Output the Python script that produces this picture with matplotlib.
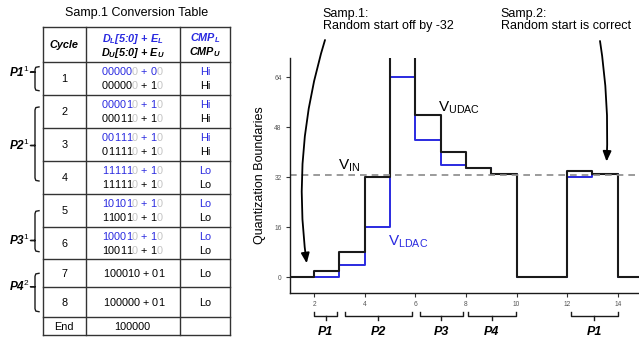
import numpy as np
import matplotlib.pyplot as plt

plt.rcParams['font.family'] = 'Liberation Sans'
plt.rcParams['mathtext.fontset'] = 'custom'
plt.rcParams['mathtext.rm'] = 'Liberation Sans'
plt.rcParams['mathtext.it'] = 'Liberation Sans:italic'
plt.rcParams['mathtext.bf'] = 'Liberation Sans:bold:italic'

BLUE = '#2a2ae0'
FADE = '#c4c4c4'
INK = '#1a1a1a'

# --- Samp.1 conversion table
cycles = ['1', '2', '3', '4', '5', '6', '7', '8', 'End']
codes_l = ['000000 + 00', '000010 + 10', '001110 + 10', '111110 + 10', '101010 + 10', '100010 + 10']
codes_u = ['000000 + 10', '000110 + 10', '011110 + 10', '111110 + 10', '110010 + 10', '100110 + 10',
           '100010 + 01', '100000 + 01', '100000']
cmp_l = ['Hi', 'Hi', 'Hi', 'Lo', 'Lo', 'Lo']
cmp_u = ['Hi', 'Hi', 'Hi', 'Lo', 'Lo', 'Lo', 'Lo', 'Lo', '']
faded_idx = (5, 10)   # bits not resolved yet, drawn in light gray
row_phases = ['P1', 'P2', 'P3', 'P4']
row_phase_sup = ['1', '1', '1', '2']

# --- DAC waveforms, one value per cycle (cycle k spans k..k+1)
cycle_edges = np.arange(1, 16)
v_udac = [0, 2, 8, 32, 96, 52, 40, 35, 33, 0, 0, 34, 33, 0]
v_ldac = [0, 0, 4, 16, 64, 44, 36, 35, 33, 0, 0, 32, 33, 0]
v_in = 32.6
phases = ['P1', 'P2', 'P3', 'P4', 'P1']
phase_start = [2.0, 3.21, 6.19, 8.1, 12.14]
phase_end = [2.92, 5.88, 7.87, 9.98, 14.0]
phase_mid = [2.47, 4.54, 7.02, 9.02, 13.07]

fig = plt.figure(figsize=(6.39, 3.38), dpi=100)

# pixel-coordinate overlay for the table and the notes
pax = fig.add_axes([0, 0, 1, 1])
pax.set_xlim(0, 639)
pax.set_ylim(338, 0)
pax.axis('off')

ADV = {'0': 0.556, '1': 0.556, ' ': 0.278, '+': 0.584}
FS = 7.8
EM = FS * 100 / 72


def code_text(x, y, code, color, faded):
    pen = x
    for i, ch in enumerate(code):
        if ch != ' ':
            pax.text(pen, y + 0.36 * EM, ch, color=FADE if i in faded else color,
                     fontsize=FS, ha='left', va='baseline')
        pen += ADV[ch] * EM


col_x = [42.7, 86, 180, 230]
row_y = [27.3, 62, 95, 128, 161, 193.5, 226.7, 259.3, 287.3, 316.7, 335]
for y in row_y:
    pax.plot([col_x[0], col_x[-1]], [y, y], color='#333333', lw=1.0)
for x in col_x:
    pax.plot([x, x], [row_y[0], row_y[-1]], color='#333333', lw=1.0)

pax.text(136.5, 13, 'Samp.1 Conversion Table', fontsize=9, ha='center', va='center')
pax.text(64.3, 45, 'Cycle', fontsize=FS, fontweight='bold', style='italic', ha='center', va='center')
pax.text(133, 38.5, r'D$_\mathbf{L}$[5:0] + E$_\mathbf{L}$', color=BLUE, fontsize=FS,
         fontweight='bold', style='italic', ha='center', va='center')
pax.text(133, 52.5, r'D$_\mathbf{U}$[5:0] + E$_\mathbf{U}$', color='black', fontsize=FS,
         fontweight='bold', style='italic', ha='center', va='center')
pax.text(205, 38.5, r'CMP$_\mathbf{L}$', color=BLUE, fontsize=FS,
         fontweight='bold', style='italic', ha='center', va='center')
pax.text(205, 52.5, r'CMP$_\mathbf{U}$', color='black', fontsize=FS,
         fontweight='bold', style='italic', ha='center', va='center')

for i, cyc in enumerate(cycles):
    yc = (row_y[i + 1] + row_y[i + 2]) / 2
    pax.text(64.3, yc + 0.36 * EM, cyc, fontsize=FS, ha='center', va='baseline')
    if i < len(codes_l):
        code_text(101.7, yc - 7, codes_l[i], BLUE, faded_idx)
        code_text(101.7, yc + 7, codes_u[i], 'black', faded_idx)
        pax.text(205, yc - 7 + 0.36 * EM, cmp_l[i], color=BLUE, fontsize=FS, ha='center', va='baseline')
        pax.text(205, yc + 7 + 0.36 * EM, cmp_u[i], color='black', fontsize=FS, ha='center', va='baseline')
    elif cyc != 'End':
        code_text(103.3, yc, codes_u[i], 'black', ())
        pax.text(205, yc + 0.36 * EM, cmp_u[i], color='black', fontsize=FS, ha='center', va='baseline')
    else:
        pax.text(132.5, yc + 0.36 * EM, codes_u[i], fontsize=FS, ha='center', va='baseline')

# brackets grouping the cycles into phases
bracket_span = [(66.7, 90.7, 72.2), (107, 181, 145.5), (210.7, 251.7, 240.5), (273.3, 311.7, 286.7)]
bx = 35
for name, sup, (y0, y1, ym) in zip(row_phases, row_phase_sup, bracket_span):
    pax.plot([bx + 4, bx + 0.8, bx, bx, bx - 4.5, bx, bx, bx + 0.8, bx + 4],
             [y0, y0 + 0.6, y0 + 3, ym, ym, ym, y1 - 3, y1 - 0.6, y1], color=INK, lw=1.0)
    pax.text(29.5, ym, name + r'$^{' + sup + '}$', fontsize=8.5, fontweight='bold', style='italic',
             ha='right', va='center')

# --- chart
ax = fig.add_axes([290 / 639, 45.3 / 338, (639 - 290) / 639, 234.4 / 338])
ax.patch.set_visible(False)
ax.step(cycle_edges, v_ldac + [v_ldac[-1]], where='post', color=BLUE, lw=1.4)
ax.step(cycle_edges, v_udac + [v_udac[-1]], where='post', color=INK, lw=1.5)
ax.axhline(v_in, color='#8a8a8a', lw=1.2, ls=(0, (4, 3)))

ax.set_xlim(1.05, 14.84)
ax.set_ylim(-4.9, 70)
ax.set_xticks([2, 4, 6, 8, 10, 12, 14])
ax.set_yticks([0, 16, 32, 48, 64])
ax.tick_params(labelsize=4.8, labelcolor='#555555', color='#333333', length=3, width=0.8, pad=3)
for s in ['top', 'right']:
    ax.spines[s].set_visible(False)
for s in ['left', 'bottom']:
    ax.spines[s].set_color(INK)
    ax.spines[s].set_linewidth(1.0)
ax.set_ylabel('Quantization Boundaries', fontsize=9)
ax.yaxis.set_label_coords(-0.069, 0.5)

ax.text(2.95, 34.3, r'V$_{\mathrm{IN}}$', fontsize=11, ha='left', va='baseline')
ax.text(6.9, 53, r'V$_{\mathrm{UDAC}}$', fontsize=11, ha='left', va='baseline')
ax.text(4.93, 10.3, r'V$_{\mathrm{LDAC}}$', fontsize=11, color=BLUE, ha='left', va='baseline')

trans = ax.get_xaxis_transform()
for name, a, b, m in zip(phases, phase_start, phase_end, phase_mid):
    ax.plot([a, a, b, b], [-0.081, -0.1, -0.1, -0.081], transform=trans, clip_on=False, color=INK, lw=1.0)
    ax.plot([m, m], [-0.1, -0.116], transform=trans, clip_on=False, color=INK, lw=1.0)
    ax.text(m, -0.168, name, transform=trans, ha='center', va='center',
            fontsize=9, fontweight='bold', style='italic')

pax.text(322.7, 7.5, 'Samp.1:\nRandom start off by -32', fontsize=9, ha='left', va='top', linespacing=1.08)
pax.text(500.7, 7.5, 'Samp.2:\nRandom start is correct', fontsize=9, ha='left', va='top', linespacing=1.08)

arrow_kw = dict(arrowstyle='-|>,head_length=0.6,head_width=0.25', color='black', lw=1.3,
                shrinkA=0, shrinkB=0, mutation_scale=10)
ax.annotate('', xy=(1.71, 4.5), xytext=(325, 40), textcoords=pax.transData, annotation_clip=False,
            arrowprops=dict(connectionstyle='arc3,rad=0.11', **arrow_kw))
ax.annotate('', xy=(13.56, 37), xytext=(600, 41), textcoords=pax.transData, annotation_clip=False,
            arrowprops=dict(connectionstyle='arc3,rad=-0.05', **arrow_kw))

fig.savefig('out.png', dpi=100)
